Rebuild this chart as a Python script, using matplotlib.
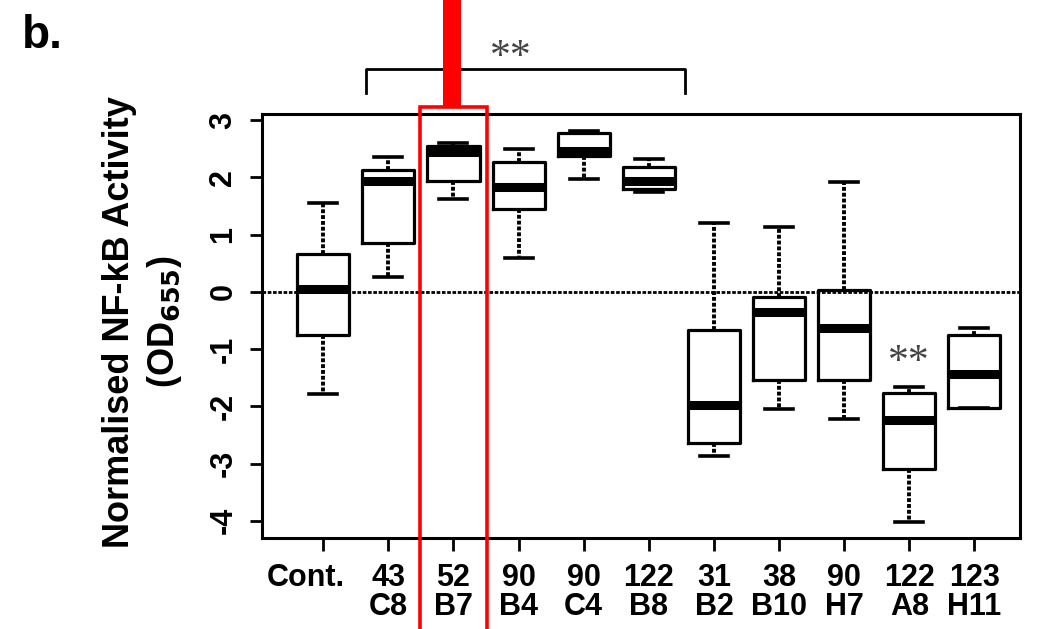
import matplotlib
matplotlib.use('Agg')
import matplotlib.pyplot as plt
import matplotlib.transforms as mtrans
from matplotlib.patches import Rectangle

plt.rcParams['font.family'] = ['Liberation Sans', 'DejaVu Sans']

# Data
groups = ['Cont.', '43\nC8', '52\nB7', '90\nB4', '90\nC4', '122\nB8',
          '31\nB2', '38\nB10', '90\nH7', '122\nA8', '123\nH11']
whis_lo = [-1.78, 0.26, 1.63, 0.59, 1.97, 1.75, -2.87, -2.05, -2.22, -4.02, -2.03]
q1 = [-0.75, 0.86, 1.94, 1.45, 2.38, 1.80, -2.64, -1.54, -1.54, -3.09, -2.03]
median = [0.05, 1.94, 2.44, 1.84, 2.46, 1.93, -1.98, -0.35, -0.63, -2.24, -1.43]
q3 = [0.66, 2.13, 2.55, 2.27, 2.78, 2.19, -0.66, -0.09, 0.03, -1.76, -0.75]
whis_hi = [1.56, 2.36, 2.60, 2.50, 2.81, 2.33, 1.21, 1.14, 1.92, -1.66, -0.63]
yticks = [-4, -3, -2, -1, 0, 1, 2, 3]

fig = plt.figure(figsize=(10.48, 6.29), dpi=100)
ax = fig.add_axes([0.25, 0.1447, 0.7233, 0.6741])

stats = []
for i in range(len(groups)):
    stats.append({'whislo': whis_lo[i], 'q1': q1[i], 'med': median[i],
                  'q3': q3[i], 'whishi': whis_hi[i], 'fliers': []})

pos = list(range(1, len(groups) + 1))
ax.bxp(stats, positions=pos, widths=0.8, capwidths=0.43, showfliers=False,
       boxprops=dict(color='black', lw=2.3),
       whiskerprops=dict(color='black', lw=2.8, linestyle=(0, (1.0, 0.5))),
       capprops=dict(color='black', lw=2.6),
       medianprops=dict(color='black', lw=6.5, solid_capstyle='butt'))

# zero reference line
ax.axhline(0, color='black', lw=2.0, linestyle=(0, (1.3, 0.6)), zorder=0.5)

ax.set_xlim(0.06, 11.7)
ax.set_ylim(-4.30, 3.11)

ax.set_xticks(pos)
ax.set_xticklabels(groups, fontsize=22, fontweight='bold', linespacing=0.95)
ax.set_yticks(yticks)
ax.set_yticklabels([str(t) for t in yticks], fontsize=22, fontweight='bold',
                   rotation=90, va='center')
ax.tick_params(axis='both', length=9, width=2)
ax.tick_params(axis='x', pad=9)
ax.tick_params(axis='y', pad=8)
for s in ax.spines.values():
    s.set_linewidth(2.2)

# shift the "Cont." label a little to the left, as in the figure
lab0 = ax.get_xticklabels()[0]
lab0.set_transform(lab0.get_transform() +
                   mtrans.ScaledTranslation(-0.17, 0, fig.dpi_scale_trans))

# y axis label in two lines
fig.text(0.1145, 0.488, 'Normalised NF-kB Activity', rotation=90,
         fontsize=26, fontweight='bold', ha='center', va='center')
fig.text(0.157, 0.489, r'(OD$_{\mathbf{655}}$)', rotation=90,
         fontsize=26, fontweight='bold', ha='center', va='center')

# significance marks
ax.plot([1.66, 1.66, 6.55, 6.55], [3.48, 3.90, 3.90, 3.48], color='black',
        lw=2, clip_on=False)
ax.text(3.88, 3.76, '**', fontsize=30, color='#444444', ha='center',
        va='bottom', family=['Liberation Serif', 'DejaVu Serif'])
ax.text(10, -1.58, '**', fontsize=30, color='#444444', ha='center',
        va='bottom', family=['Liberation Serif', 'DejaVu Serif'])

# panel letter
fig.text(0.021, 0.923, 'b.', fontsize=33, fontweight='bold', ha='left',
         va='baseline')

# red highlight around 52 B7
fig.patches.append(Rectangle((420 / 1048, -0.01), 67 / 1048, 1 - 107 / 629 + 0.01,
                             transform=fig.transFigure, fill=False,
                             edgecolor='red', lw=2.6, zorder=10))
fig.patches.append(Rectangle((443 / 1048, 1 - 107 / 629), 18 / 1048, 107 / 629 + 0.01,
                             transform=fig.transFigure, facecolor='red',
                             edgecolor='none', zorder=10))

fig.savefig('out.png', dpi=100)
